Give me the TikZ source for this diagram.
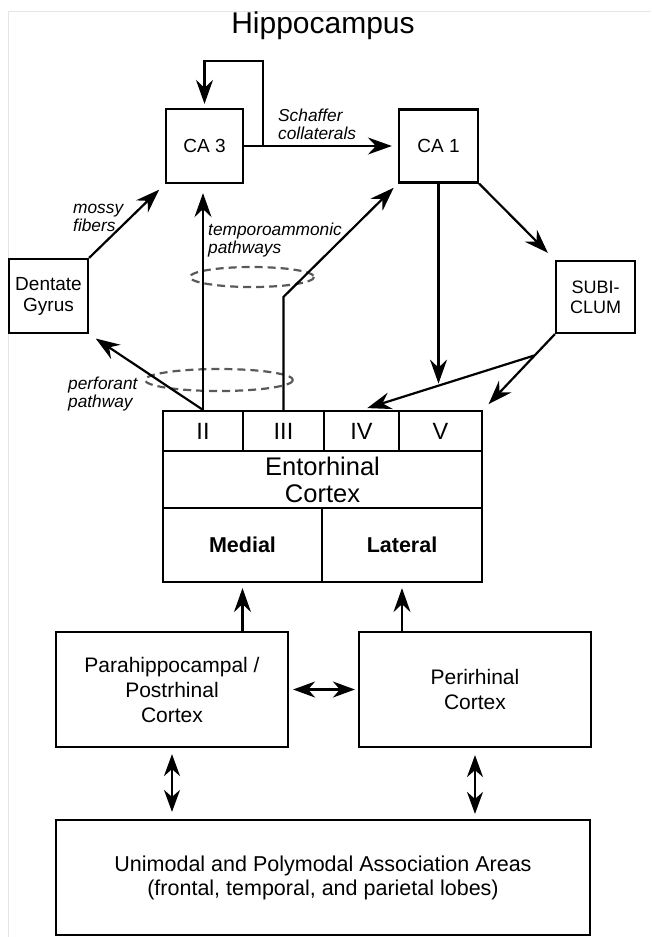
\documentclass[tikz,border=0pt]{standalone}
\usepackage{fontspec}
\setmainfont{Liberation Sans}
\usetikzlibrary{calc,arrows.meta}
\begin{document}
\begin{tikzpicture}[x=1pt,y=-1pt,line join=miter,
  font=\fontsize{19}{21}\selectfont,
  box/.style={draw,line width=2.2pt,inner sep=0pt,align=center},
  cell/.style={box,minimum height=40pt,font=\fontsize{23.5}{25}\selectfont},
  lab/.style={inner sep=0pt,align=left,font=\fontsize{17.3}{18}\selectfont\itshape},
  arr/.style={line width=2.2pt,-{Stealth[length=24pt,width=17pt,inset=8pt]}},
  darr/.style={line width=2.2pt,{Stealth[length=22pt,width=16pt,inset=7pt]}-{Stealth[length=22pt,width=16pt,inset=7pt]}},
  bundle/.style={black!65,dash pattern=on 8pt off 5pt,line width=2.2pt}]
  \path[use as bounding box] (0,0) rectangle (651,937);
  \draw[black!10,line width=1pt] (8,937)--(8,11)--(651,11);
  \node[font=\fontsize{30}{32}\selectfont] (title) at (323,26) {Hippocampus};
  \node[box,minimum width=77pt,minimum height=74pt] (CA3) at (204.5,146) {CA 3};
  \node[box,minimum width=79pt,minimum height=73pt] (CA1) at (438.5,146) {CA 1};
  \node[box,minimum width=79pt,minimum height=74pt] (DG) at (48.5,296) {Dentate\\Gyrus};
  \node[box,minimum width=79pt,minimum height=72pt,font=\fontsize{18}{20}\selectfont] (SUBI) at (595.5,297) {SUBI-\\CLUM};
  % entorhinal cortex: layer cells, name row, medial / lateral
  \node[cell,minimum width=80pt] (II) at (203,431) {II};
  \node[cell,minimum width=81pt] (III) at (283.5,431) {III};
  \node[cell,minimum width=75pt] (IV) at (361.5,431) {IV};
  \node[cell,minimum width=83pt] (V) at (440.5,431) {V};
  \node[box,minimum width=319pt,minimum height=57pt,font=\fontsize{25.5}{27}\selectfont] (EC) at (322.5,479.5) {Entorhinal\\Cortex};
  \node[box,minimum width=159pt,minimum height=74pt,font=\fontsize{21.5}{24}\selectfont\bfseries] (Medial) at (242.5,545) {Medial};
  \node[box,minimum width=160pt,minimum height=74pt,font=\fontsize{21.5}{24}\selectfont\bfseries] (Lateral) at (402,545) {Lateral};
  \node[box,minimum width=232pt,minimum height=115pt,font=\fontsize{21}{25}\selectfont] (Para) at (172,689.5) {Parahippocampal /\\Postrhinal\\Cortex};
  \node[box,minimum width=232pt,minimum height=115pt,font=\fontsize{21}{25}\selectfont] (Peri) at (475,689.5) {Perirhinal\\Cortex};
  \node[box,minimum width=534pt,minimum height=115pt,font=\fontsize{21.5}{24}\selectfont] (Assoc) at (323,877.5) {Unimodal and Polymodal Association Areas\\(frontal, temporal, and parietal lobes)};
  \draw[bundle] (252,277) ellipse[x radius=62,y radius=10];
  \draw[bundle] (219,380) ellipse[x radius=74,y radius=11];
  \path (CA3.east) ++(19,0) coordinate (sc);
  \draw[arr,shorten >=6pt] (CA3.east)--(CA1.west);
  \draw[arr,shorten >=4pt] (sc)--++(0,-85)-|(CA3.north);
  \draw[arr,shorten >=8pt] (DG.north east)--(CA3.south west);
  \draw[arr,shorten >=9pt] (II.north)--(II.north |- CA3.south);
  \draw[arr,shorten >=8pt] (II.north)--(DG.south east);
  \draw[arr,shorten >=6pt] (III.north)--++(0,-113)--(CA1.south west);
  \draw[arr,shorten >=10pt] (CA1.south east)--(SUBI.north west);
  \coordinate (ca1tip) at ($(CA1.south)+(0,200)$);
  \draw[arr] (CA1.south)--(ca1tip);
  \coordinate (fork) at ($(SUBI.south west)!0.28!(V.north east)$);
  \draw[arr,shorten >=8pt] (SUBI.south west)--(V.north east);
  \draw[arr,shorten >=6pt] (fork)--(IV.north);
  \draw[arr,shorten >=5pt] (Medial.south |- Para.north)--(Medial.south);
  \draw[arr,shorten >=5pt] (Lateral.south |- Peri.north)--(Lateral.south);
  \draw[darr,shorten <=4pt,shorten >=3pt] (Para.east)--(Peri.west);
  \draw[darr,shorten <=6pt,shorten >=7pt] (Para.south)--(Para.south |- Assoc.north);
  \draw[darr,shorten <=7pt,shorten >=5pt] (Peri.south)--(Peri.south |- Assoc.north);
  \node[lab,anchor=west] (schaffer) at (278,124) {Schaffer\\collaterals};
  \node[lab,anchor=west] (mossy) at (73,218) {mossy\\fibers};
  \node[lab,anchor=west] (temporo) at (208,240) {temporoammonic\\pathways};
  \node[lab,anchor=west] (perforant) at (68,394) {perforant\\pathway};
\end{tikzpicture}
\end{document}
